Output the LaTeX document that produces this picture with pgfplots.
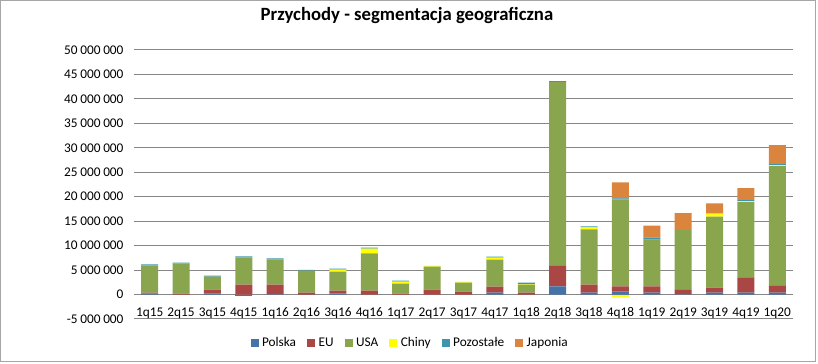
\documentclass[border=0pt]{standalone}
\usepackage{pgfplots}
\usepackage{pgfplotstable}
\pgfplotsset{compat=1.18}
\usepackage{fontspec}
\setmainfont{Carlito}
\definecolor{cPol}{HTML}{4572A7}
\definecolor{cEU}{HTML}{AA4643}
\definecolor{cUSA}{HTML}{89A54E}
\definecolor{cChi}{HTML}{FFFF00}
\definecolor{cPoz}{HTML}{3D96AE}
\definecolor{cJap}{HTML}{DB843D}
\definecolor{gridc}{HTML}{868686}

\pgfplotstableread{
x lab  Polska EU      USA      Chiny   Poz    Jap
0  1q15 200000  200000  5550000  0       200000 0
1  2q15 0       200000  6150000  0       200000 0
2  3q15 200000  800000  2670000  0       200000 0
3  4q15 0       2050000 5530000  0       200000 0
4  1q16 50000   2000000 5120000  0       200000 0
5  2q16 0       400000  4500000  0       150000 0
6  3q16 200000  600000  3900000  400000  200000 0
7  4q16 0       800000  7600000  1000000 200000 0
8  1q17 0       200000  2050000  400000  200000 0
9  2q17 0       1000000 4700000  200000  0      0
10 3q17 0       600000  1850000  200000  0      0
11 4q17 400000  1200000 5550000  400000  200000 0
12 1q18 0       400000  1650000  100000  300000 0
13 2q18 1650000 4300000 37500000 0       200000 0
14 3q18 400000  1650000 11270000 400000  200000 0
15 4q18 600000  1050000 17800000 0       200000 3300000
16 1q19 400000  1250000 9600000  0       400000 2450000
17 2q19 50000   1000000 12100000 0       0      3500000
18 3q19 400000  1000000 14550000 600000  50000  2050000
19 4q19 400000  3100000 15400000 200000  200000 2450000
20 1q20 400000  1450000 24400000 200000  200000 3900000
}\datatable

\pgfplotstableread{
x Polska Chiny
3  -300000 0
15 0       -600000
}\negtable

\pgfplotsset{
  base/.style={
    scale only axis,
    width=659bp, height=269bp,
    at={(134bp,45bp)}, anchor=south west,
    xmin=-0.5, xmax=20.5,
    ymin=-5000000, ymax=50000000,
    ybar stacked, bar width=17bp,
  }
}

\begin{document}
\begin{tikzpicture}
\path[use as bounding box] (0,0) rectangle (818bp,364bp);
\draw[color=gray!70, line width=1bp] (0.5bp,2bp) rectangle (815.5bp,363.5bp);
\node[anchor=base, font=\fontsize{18.7bp}{22bp}\selectfont\bfseries] at (407bp,343bp) {Przychody - segmentacja geograficzna};

\begin{axis}[base,
  axis line style={draw=none},
  ytick={-5000000,0,...,50000000},
  xtick={0,...,20},
  xticklabels={1q15,2q15,3q15,4q15,1q16,2q16,3q16,4q16,1q17,2q17,3q17,4q17,1q18,2q18,3q18,4q18,1q19,2q19,3q19,4q19,1q20},
  major tick length=0pt,
  ymajorgrids, grid style={gridc, line width=1bp},
  scaled y ticks=false,
  /pgf/number format/fixed,
  /pgf/number format/precision=0,
  /pgf/number format/1000 sep={\hspace{0.2em}},
  /pgf/number format/assume math mode=true,
  ticklabel style={font=\fontsize{13.3bp}{15bp}\selectfont, text=black},
  yticklabel style={xshift=-7bp},
  xticklabel style={yshift=15bp},
  legend columns=6,
  legend style={draw=none, at={(0.419,-0.089)}, anchor=center,
    font=\fontsize{13.3bp}{15bp}\selectfont,
    /tikz/every odd column/.append style={column sep=1.5bp},
    /tikz/every even column/.append style={column sep=9bp}},
  legend image code/.code={\fill[#1] (0bp,-4bp) rectangle (8bp,4bp);},
]
\addplot[fill=cPol, draw=none] table[x=x, y=Polska] {\datatable};
\addlegendentry{Polska}
\addplot[fill=cEU, draw=none] table[x=x, y=EU] {\datatable};
\addlegendentry{EU}
\addplot[fill=cUSA, draw=none] table[x=x, y=USA] {\datatable};
\addlegendentry{USA}
\addplot[fill=cChi, draw=none] table[x=x, y=Chiny] {\datatable};
\addlegendentry{Chiny}
\addplot[fill=cPoz, draw=none] table[x=x, y=Poz] {\datatable};
\addlegendentry{Pozostałe}
\addplot[fill=cJap, draw=none] table[x=x, y=Jap] {\datatable};
\addlegendentry{Japonia}
\end{axis}

\begin{axis}[base, hide axis]
\addplot[fill=cPol, draw=none] table[x=x, y=Polska] {\negtable};
\addplot[fill=cChi, draw=none] table[x=x, y=Chiny] {\negtable};
\end{axis}
\end{tikzpicture}
\end{document}
